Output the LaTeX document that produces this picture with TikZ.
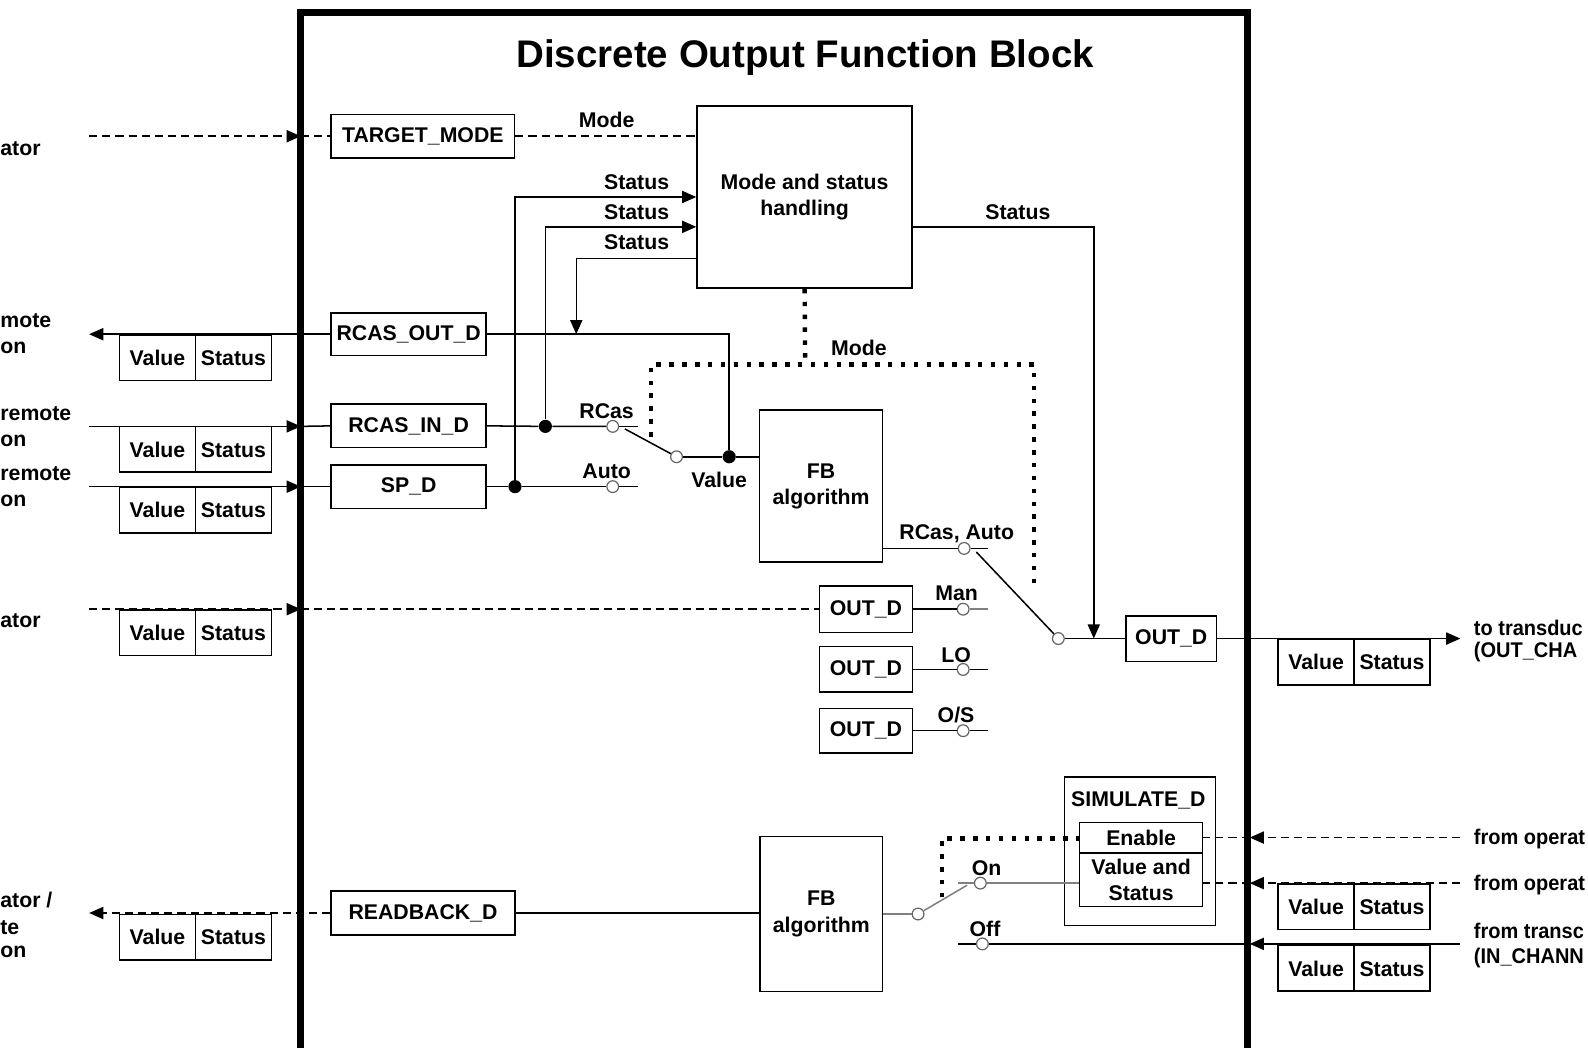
\documentclass[tikz,border=0pt]{standalone}
\usepackage{fontspec}
\setmainfont{Liberation Sans}
\usetikzlibrary{arrows.meta,calc}
\newcommand\lbfont{\fontsize{10.5}{13}\selectfont\bfseries}
\newcommand\rtfont{\fontsize{10.5}{13}\selectfont\bfseries\addfontfeatures{FakeStretch=0.94}}
\definecolor{lg}{gray}{0.5}
\begin{document}
\begin{tikzpicture}[x=0.5pt,y=-0.5pt,
  box/.style={draw, line width=0.75pt, inner sep=0pt, font=\lbfont, align=center},
  vsbox/.style={draw, line width=0.75pt, minimum width=37.5pt, minimum height=22.5pt, inner sep=0pt, font=\lbfont, anchor=north, text height=7.5pt, text depth=0pt},
  lbl/.style={font=\lbfont, inner sep=0pt, text height=7.5pt, text depth=0pt},
  lbw/.style={lbl, anchor=west},
  rbw/.style={lbl, anchor=west, font=\rtfont},
  contact/.style={circle, draw=black!60, fill=white, line width=0.6pt, minimum size=5.8pt, inner sep=0pt},
  junc/.style={circle, fill=black, minimum size=6.5pt, inner sep=0pt},
  conn/.style={line width=0.75pt},
  gconn/.style={line width=0.75pt, draw=lg},
  dashln/.style={line width=0.75pt, dash pattern=on 4pt off 2.5pt},
  dotln/.style={line width=2.2pt, dash pattern=on 2.2pt off 4.15pt},
  arr/.style={-{Triangle[length=7pt,width=6pt]}}
]
\useasboundingbox (0,0) rectangle (1568,1035);

% frame and title
\draw[line width=3.3pt] (297,1035) -- (297,12) -- (1232,12) -- (1232,1035);
\node[font=\fontsize{19}{22}\selectfont\bfseries, inner sep=0pt] (title) at (795,57) {Discrete Output Function Block};

% boxes
\node[box, minimum width=90.5pt, minimum height=21.5pt] (tm) at (417.5,134.5) {TARGET\_MODE};
\node[box, minimum width=106.25pt, minimum height=90pt] (msh) at (794.5,194.5) {Mode and status\\handling};
\node[box, minimum width=76.5pt, minimum height=21pt] (rco) at (403.5,330) {RCAS\_OUT\_D};
\node[box, minimum width=76.5pt, minimum height=21.5pt] (rci) at (403.5,420.5) {RCAS\_IN\_D};
\node[box, minimum width=76.5pt, minimum height=21.5pt] (spd) at (403.5,480.5) {SP\_D};
\node[box, minimum width=60.75pt, minimum height=75pt] (fb1) at (810.7,480) {FB\\algorithm};
\node[box, minimum width=46pt, minimum height=22.85pt] (om) at (855,601.5) {OUT\_D};
\node[box, minimum width=46pt, minimum height=22.5pt] (ol) at (855,661) {OUT\_D};
\node[box, minimum width=46pt, minimum height=22pt] (oo) at (855,721.5) {OUT\_D};
\node[box, minimum width=44.5pt, minimum height=22.5pt] (oout) at (1156.5,630.5) {OUT\_D};
\node[box, minimum width=90.75pt, minimum height=21.5pt] (rb) at (417.7,901.5) {READBACK\_D};
\node[box, minimum width=60.5pt, minimum height=76.5pt] (fb2) at (811,902.5) {FB\\algorithm};
\node[box, minimum width=74.5pt, minimum height=73.5pt] (sim) at (1125.5,840.5) {};
\node[lbl] (simt) at (1124,789) {SIMULATE\_D};
\node[box, minimum width=60.75pt, minimum height=15pt] (en) at (1126.75,827) {Enable};
\node[box, minimum width=60.75pt, minimum height=26.5pt] (vas) at (1126.75,868.5) {Value and\\Status};

% value/status pairs
\foreach \n/\y in {a/330,b/420.5,c/480.5,d/601.5,e/902}{
  \node[vsbox] (v\n) at (155.5,\y) {Value};
  \node[vsbox] (s\n) at (230.5,\y) {Status};
}
\foreach \n/\y in {f/630.5,g/872,h/933}{
  \node[vsbox] (v\n) at (1299.5,\y) {Value};
  \node[vsbox] (s\n) at (1374.5,\y) {Status};
}

% contacts and junctions
\node[contact] (cRC) at (605,421) {};
\node[contact] (cAU) at (605,480.5) {};
\node[contact] (cPV) at (668,451) {};
\node[junc] (jRI) at (538.5,421) {};
\node[junc] (jSP) at (508.5,480.5) {};
\node[junc] (jV) at (720,451) {};
\node[contact] (cRA) at (952,541.5) {};
\node[contact] (cMan) at (951,601.5) {};
\node[contact] (cLO) at (951,661) {};
\node[contact] (cOS) at (951,721.5) {};
\node[contact] (cP2) at (1045,630.5) {};
\node[contact] (cP3) at (906.5,902.5) {};
\node[contact] (cOn) at (968,872) {};
\node[contact] (cOff) at (970,932) {};

% coordinates
\coordinate (lTM) at (88,134.5);  \coordinate (fTM) at (297,134.5);
\coordinate (lRO) at (88,330);
\coordinate (lRI) at (88,421);    \coordinate (fRI) at (297,421);
\coordinate (lSP) at (88,480.5);  \coordinate (fSP) at (297,480.5);
\coordinate (lMan) at (88,601.5); \coordinate (fMan) at (297,601.5);
\coordinate (lRB) at (88,901.5);
\coordinate (rOut) at (1442,630.5);
\coordinate (rE) at (1442,827);   \coordinate (fE) at (1234,827);
\coordinate (rV) at (1442,872);   \coordinate (fV) at (1234,872);
\coordinate (rT) at (1442,932);   \coordinate (fT) at (1234,932);
\coordinate (st1) at (508.5,194.5);
\coordinate (st2) at (538.5,224);
\coordinate (st3) at (569,255);   \coordinate (st3d) at (569,330);
\coordinate (rv) at (720,330);
\coordinate (sR) at (1080,224);   \coordinate (sD) at (1080,630.5);
\coordinate (stRC) at (630,421);  \coordinate (stAU) at (630,480.5);
\coordinate (bl1) at (617,423.5);
\coordinate (stRA) at (976,541.5); \coordinate (bl2) at (964,545);
\coordinate (stMan) at (976,601.5); \coordinate (stLO) at (976,661); \coordinate (stOS) at (976,721.5);
\coordinate (bl3) at (955,874);   \coordinate (stOn) at (946,872);
\coordinate (stOff) at (946,932);
\coordinate (m1) at (795,360); \coordinate (mL) at (643,360); \coordinate (mL2) at (643,431);
\coordinate (mR) at (1021,360); \coordinate (mR2) at (1021,583);
\coordinate (d1) at (930,886); \coordinate (d2) at (930,828);

% left side connectors
\draw[dashln,arr] (lTM) -- (fTM);
\draw[dashln] (fTM) -- (tm.west);
\draw[dashln] (tm.east) -- (tm.east -| msh.west);
\draw[conn,arr] (rco.west) -- (lRO);
\draw[conn,arr] (lRI) -- (fRI);
\draw[conn] (fRI) -- (rci.west);
\draw[conn,arr] (lSP) -- (fSP);
\draw[conn] (fSP) -- (spd.west);
\draw[dashln,arr] (lMan) -- (fMan);
\draw[dashln] (fMan) -- (om.west);
\draw[dashln,arr] (rb.west) -- (lRB);

% status lines
\draw[conn,arr] (jSP) -- (st1) -- (st1 -| msh.west);
\draw[conn,arr] (jRI) -- (st2) -- (st2 -| msh.west);
\draw[conn,arr] (st3 -| msh.west) -- (st3) -- (st3d);
\draw[conn,arr] (msh.east |- sR) -- (sR) -- (sD);

% setpoint paths
\draw[conn] (rco.east) -- (rv) -- (jV);
\draw[conn] (rci.east) -- (jRI) -- (cRC);
\draw[conn] (cRC) -- (stRC);
\draw[conn] (spd.east) -- (jSP) -- (cAU);
\draw[conn] (cAU) -- (stAU);
\draw[conn] (cPV) -- (bl1);
\draw[conn] (cPV) -- (jV) -- (jV -| fb1.west);

% output paths
\draw[conn] (cRA -| fb1.east) -- (cRA);
\draw[conn] (cRA) -- (stRA);
\draw[conn] (cP2) -- (bl2);
\draw[conn] (om.east |- cMan) -- (cMan);
\draw[gconn] (cMan) -- (stMan);
\draw[conn] (ol.east |- cLO) -- (cLO);
\draw[conn] (cLO) -- (stLO);
\draw[conn] (oo.east |- cOS) -- (cOS);
\draw[conn] (cOS) -- (stOS);
\draw[conn] (cP2) -- (oout.west);
\draw[conn,arr] (oout.east) -- (rOut);

% mode dotted lines
\draw[dotln] (msh.south) -- (m1);
\draw[dotln] (mL2) -- (mL) -- (mR) -- (mR2);

% readback / simulation
\draw[conn] (rb.east) -- (rb.east -| fb2.west);
\draw[gconn] (cP3 -| fb2.east) -- (cP3);
\draw[gconn] (cP3) -- (bl3);
\draw[gconn] (cOn) -- (stOn);
\draw[gconn] (cOn) -- (cOn -| vas.west);
\draw[conn] (cOff) -- (stOff);
\draw[conn,arr] (rT) -- (fT);
\draw[conn] (fT) -- (cOff);
\draw[dotln] (d1) -- (d2) -- (d2 -| en.west);
\draw[dashln,arr] (rE) -- (fE);
\draw[dashln] (fE) -- (fE -| en.east);
\draw[dashln,arr] (rV) -- (fV);
\draw[dashln] (fV) -- (fV -| vas.east);

% labels
\node[lbl] (lbMode1) at (599,118.5) {Mode};
\node[lbl] (lbSt1) at (628.6,179.4) {Status};
\node[lbl] (lbSt2) at (628.6,209) {Status};
\node[lbl] (lbSt3) at (628.6,238.6) {Status};
\node[lbl] (lbSt4) at (1005,209) {Status};
\node[lbl] (lbMode2) at (848,344) {Mode};
\node[lbl] (lbRC) at (599,405.5) {RCas};
\node[lbl] (lbAU) at (599,464.7) {Auto};
\node[lbl] (lbV) at (710,474) {Value};
\node[lbl] (lbRA) at (944.7,525) {RCas, Auto};
\node[lbl] (lbMan) at (944.6,585.8) {Man};
\node[lbl] (lbLO) at (944,646.7) {LO};
\node[lbl] (lbOS) at (944,706) {O/S};
\node[lbl] (lbOn) at (974.2,856.7) {On};
\node[lbl] (lbOff) at (972.6,917.6) {Off};

% outside texts (cropped in the reference)
\node[lbw] (t1) at (0,146) {ator};
\node[lbw] (t2a) at (0,316) {mote};
\node[lbw] (t2b) at (0,342) {on};
\node[lbw] (t3a) at (0,407.5) {remote};
\node[lbw] (t3b) at (0,433) {on};
\node[lbw] (t4a) at (0,466.7) {remote};
\node[lbw] (t4b) at (0,493) {on};
\node[lbw] (t5) at (0,612) {ator};
\node[lbw] (t6a) at (0,889) {ator /};
\node[lbw] (t6b) at (0,915) {te};
\node[lbw] (t6c) at (0,938) {on};
\node[rbw] (r1a) at (1455,620) {to transduc};
\node[rbw] (r1b) at (1455,642) {(OUT\_CHA};
\node[rbw] (r2) at (1455,826) {from operat};
\node[rbw] (r3) at (1455,872) {from operat};
\node[rbw] (r4a) at (1455,919) {from transc};
\node[rbw] (r4b) at (1455,944) {(IN\_CHANN};
\end{tikzpicture}
\end{document}
